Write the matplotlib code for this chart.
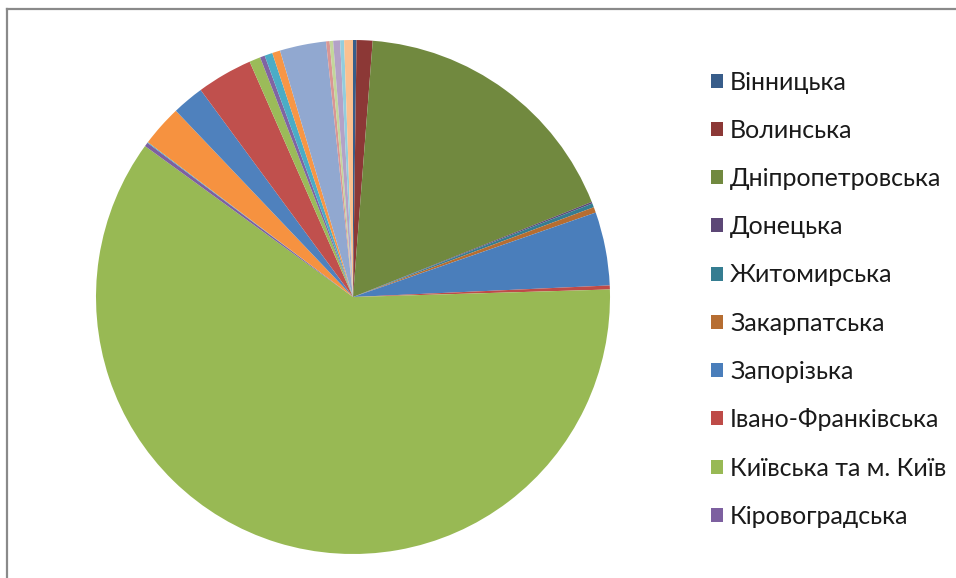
import matplotlib
matplotlib.use("Agg")
import matplotlib.pyplot as plt
from matplotlib.lines import Line2D

plt.rcParams['font.family'] = ['Lato', 'Open Sans', 'DejaVu Sans']

# regions in sheet order, share of total (%)
regions = [
    "Вінницька", "Волинська", "Дніпропетровська", "Донецька", "Житомирська",
    "Закарпатська", "Запорізька", "Івано-Франківська", "Київська та м. Київ",
    "Кіровоградська", "Луганська", "Львівська", "Миколаївська", "Одеська",
    "Полтавська", "Рівненська", "Сумська", "Тернопільська", "Харківська",
    "Херсонська", "Хмельницька", "Черкаська", "Чернівецька", "Чернігівська",
]
shares = [
    0.22, 1.0, 17.7, 0.1, 0.25,
    0.35, 4.6, 0.25, 60.3,
    0.25, 0.05, 2.6, 2.0, 3.5,
    0.7, 0.3, 0.5, 0.5, 2.9,
    0.22, 0.22, 0.43, 0.25, 0.55,
]
colors = [
    "#385D8A", "#8C3836", "#71893F", "#5C4776", "#357D91", "#B66D31",
    "#4A7EBB", "#BE4B48", "#98B954", "#7D60A0", "#46AAC5", "#F69240",
    "#4F81BD", "#C0504D", "#9BBB59", "#8064A2", "#4BACC6", "#F79646",
    "#91A8D0", "#D99694", "#C3D69B", "#B3A2C7", "#93CDDD", "#FAC090",
]
n_legend = 10  # only the first entries fit in the legend box

W, H = 956, 578
fig = plt.figure(figsize=(W / 100, H / 100), dpi=100)

# pie centre at (353, 297) px, radius 257 px
cx, cy, r = 353, 297, 257
ax = fig.add_axes([(cx - r) / W, (H - cy - r) / H, 2 * r / W, 2 * r / H])
wedges, _ = ax.pie(shares, colors=colors, startangle=90, counterclock=False,
                   radius=1, wedgeprops=dict(linewidth=0))
ax.set_xlim(-1, 1)
ax.set_ylim(-1, 1)
ax.set_aspect('equal')
ax.axis('off')

fig.legend(wedges[:n_legend], regions[:n_legend],
           loc='upper left', bbox_to_anchor=(711 / W, 1 - 70.5 / H),
           frameon=False, fontsize=18, handlelength=0.48, handleheight=0.48,
           handletextpad=0.28, labelspacing=1.01, borderpad=0, borderaxespad=0,
           labelcolor="#1a1a1a")

# chart area frame (top and left edges)
fig.add_artist(Line2D([7 / W, 1], [1 - 9 / H, 1 - 9 / H], color="#8a8a8a", lw=1.6))
fig.add_artist(Line2D([7 / W, 7 / W], [0, 1 - 9 / H], color="#8a8a8a", lw=1.6))

fig.savefig("out.png", dpi=100)
